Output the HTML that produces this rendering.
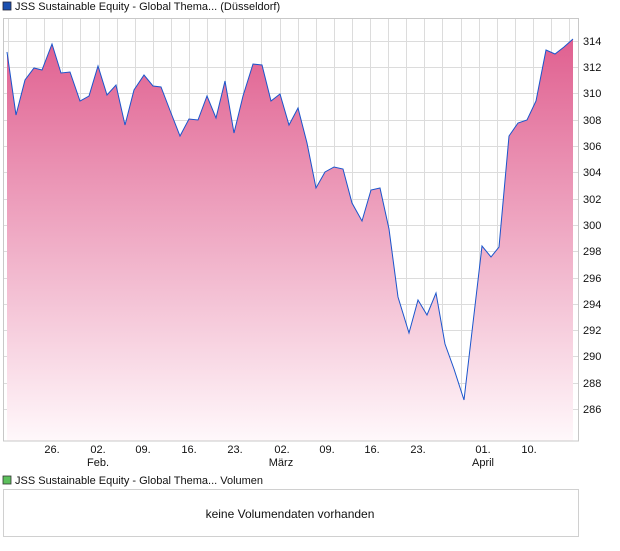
<!DOCTYPE html>
<html><head><meta charset="utf-8"><style>
body{margin:0;background:#fff;width:620px;height:546px;overflow:hidden;font-family:"Liberation Sans",sans-serif}
</style></head><body>
<svg width="620" height="546" viewBox="0 0 620 546" xmlns="http://www.w3.org/2000/svg" font-family="Liberation Sans, sans-serif">
<defs><linearGradient id="g" x1="0" y1="0" x2="0" y2="1"><stop offset="0" stop-color="#e06090"/><stop offset="1" stop-color="#fff8fb"/></linearGradient></defs>
<rect x="3" y="2" width="8" height="8" fill="#1a4fb0" stroke="#223" stroke-width="0.8"/>
<text x="15" y="10" font-size="11" fill="#111">JSS Sustainable Equity - Global Thema... (Düsseldorf)</text>
<g stroke="#dcdcdc" stroke-width="1">
<line x1="3" y1="41.5" x2="578" y2="41.5"/><line x1="3" y1="67.5" x2="578" y2="67.5"/><line x1="3" y1="93.5" x2="578" y2="93.5"/><line x1="3" y1="120.5" x2="578" y2="120.5"/><line x1="3" y1="146.5" x2="578" y2="146.5"/><line x1="3" y1="172.5" x2="578" y2="172.5"/><line x1="3" y1="199.5" x2="578" y2="199.5"/><line x1="3" y1="225.5" x2="578" y2="225.5"/><line x1="3" y1="251.5" x2="578" y2="251.5"/><line x1="3" y1="278.5" x2="578" y2="278.5"/><line x1="3" y1="304.5" x2="578" y2="304.5"/><line x1="3" y1="330.5" x2="578" y2="330.5"/><line x1="3" y1="356.5" x2="578" y2="356.5"/><line x1="3" y1="383.5" x2="578" y2="383.5"/><line x1="3" y1="409.5" x2="578" y2="409.5"/>
</g>
<g stroke="#dcdcdc" stroke-width="1" id="vg"></g>
<polygon fill="url(#g)" points="7,441 7,52 16,115 25,80 34,68 42,70 52,44 61,73 70,72 80,101 89,96 98,66 107,95 116,85 125,125 134,90 144,75 153,86 161,87 171,113 180,136 189,119 198,120 207,96 216,118 225,81 234,133 243,96 253,64 262,65 271,101 280,94 289,125 298,108 307,143 316,188 325,172 334,167 343,169 352,203 362,221 371,190 380,188 389,229 398,297 409,333 418,300 427,315 436,293 445,344 454,369 464,400 473,323 482,246 491,257 499,247 509,136 518,123 527,120 536,101 546,50 555,54 564,47 573,39 573,441"/>
<polyline fill="none" stroke="#1a55cc" stroke-width="1" points="7,52 16,115 25,80 34,68 42,70 52,44 61,73 70,72 80,101 89,96 98,66 107,95 116,85 125,125 134,90 144,75 153,86 161,87 171,113 180,136 189,119 198,120 207,96 216,118 225,81 234,133 243,96 253,64 262,65 271,101 280,94 289,125 298,108 307,143 316,188 325,172 334,167 343,169 352,203 362,221 371,190 380,188 389,229 398,297 409,333 418,300 427,315 436,293 445,344 454,369 464,400 473,323 482,246 491,257 499,247 509,136 518,123 527,120 536,101 546,50 555,54 564,47 573,39"/>
<rect x="3.5" y="18.5" width="575" height="422.5" fill="none" stroke="#c8c8c8"/>
<g font-size="11" fill="#111">
<text x="583" y="45">314</text><text x="583" y="71">312</text><text x="583" y="97">310</text><text x="583" y="124">308</text><text x="583" y="150">306</text><text x="583" y="176">304</text><text x="583" y="203">302</text><text x="583" y="229">300</text><text x="583" y="255">298</text><text x="583" y="282">296</text><text x="583" y="308">294</text><text x="583" y="334">292</text><text x="583" y="360">290</text><text x="583" y="387">288</text><text x="583" y="413">286</text>
</g>
<g font-size="11" fill="#111" text-anchor="middle">
<text x="52" y="453">26.</text><text x="98" y="453">02.</text><text x="143" y="453">09.</text><text x="189" y="453">16.</text><text x="235" y="453">23.</text><text x="282" y="453">02.</text><text x="327" y="453">09.</text><text x="372" y="453">16.</text><text x="418" y="453">23.</text><text x="483" y="453">01.</text><text x="529" y="453">10.</text>
<text x="98" y="466">Feb.</text><text x="281" y="466">März</text><text x="483" y="466">April</text>
</g>
<rect x="3" y="476" width="8" height="8" fill="#5cc05c" stroke="#333" stroke-width="0.8"/>
<text x="15" y="484" font-size="11" fill="#111">JSS Sustainable Equity - Global Thema... Volumen</text>
<rect x="3.5" y="489.5" width="575" height="47" fill="none" stroke="#d0d0d0"/>
<text x="290" y="518" font-size="12" fill="#111" text-anchor="middle">keine Volumendaten vorhanden</text>
</svg>
<script>
var g=document.getElementById('vg');for(var x=8;x<578;x+=18.1){var l=document.createElementNS('http://www.w3.org/2000/svg','line');var xx=Math.round(x)+0.5;l.setAttribute('x1',xx);l.setAttribute('x2',xx);l.setAttribute('y1',18);l.setAttribute('y2',441);g.appendChild(l);}
</script>
</body></html>
